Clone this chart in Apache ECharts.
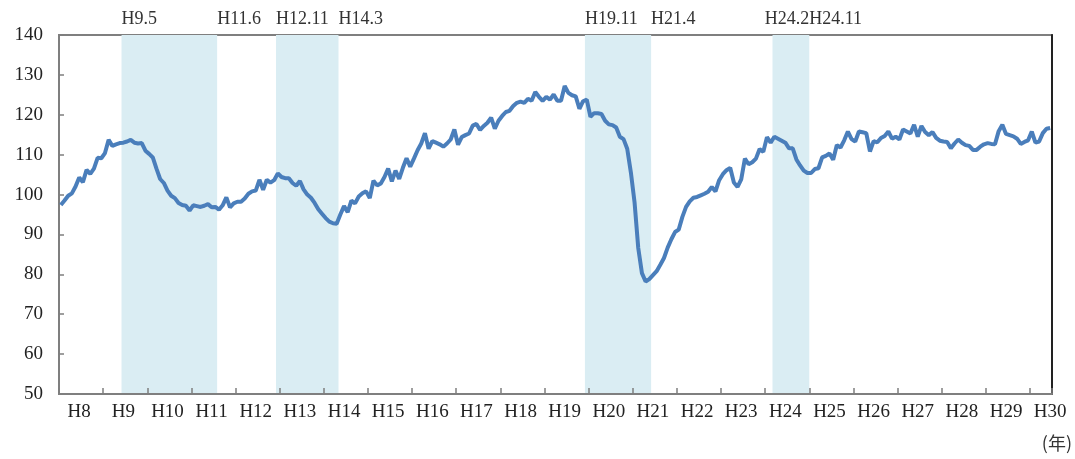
<!DOCTYPE html>
<html lang="ja">
<head>
<meta charset="UTF-8">
<title>指数の推移</title>
<script src="https://cdn.jsdelivr.net/npm/echarts@6/dist/echarts.min.js"></script>
</head>
<body style="margin:0">
<div id="main" style="width:1075px;height:459px"></div>
<script>
// 月次データ H8.1 ～ H30.6
var firstYear = 8;
var values = [
  97.4, 98.5, 99.7, 100.3, 102.0, 104.3, 103.1, 106.2, 105.2, 106.5, 109.2, 109.1,   // H8
  110.4, 113.7, 112.2, 112.6, 112.9, 113.0, 113.3, 113.7, 113.0, 112.8, 112.9, 111.0, // H9
  110.2, 109.3, 106.5, 103.9, 102.9, 101.0, 99.7, 99.1, 97.9, 97.4, 97.2, 96.0,       // H10
  97.3, 97.1, 96.9, 97.2, 97.6, 96.8, 96.9, 96.2, 97.3, 99.3, 96.8, 97.8,             // H11
  98.2, 98.2, 99.0, 100.2, 100.8, 101.0, 103.7, 101.2, 103.7, 103.0, 103.6, 105.3,    // H12
  104.4, 104.1, 104.1, 102.9, 102.2, 103.4, 101.3, 100.0, 99.2, 97.9, 96.3, 95.2,     // H13
  94.1, 93.2, 92.8, 92.7, 95.0, 97.1, 95.6, 98.5, 97.8, 99.5, 100.3, 100.8,           // H14
  99.1, 103.5, 102.3, 102.8, 104.4, 106.5, 103.3, 106.0, 103.9, 106.7, 109.1, 107.0,  // H15
  109.0, 111.1, 112.8, 115.4, 111.5, 113.4, 113.0, 112.6, 112.0, 112.8, 113.8, 116.3, // H16
  112.5, 114.4, 114.9, 115.3, 117.3, 117.7, 116.2, 117.2, 118.0, 119.3, 116.5, 118.5, // H17
  119.7, 120.7, 121.0, 122.2, 123.0, 123.3, 123.0, 124.0, 123.5, 125.7, 124.5, 123.5, // H18
  124.5, 123.8, 125.1, 123.5, 123.5, 127.2, 125.5, 124.9, 124.6, 121.5, 123.4, 123.8, // H19
  119.5, 120.4, 120.4, 120.2, 118.5, 117.6, 117.4, 116.8, 114.5, 113.9, 111.5, 105.5, // H20
  98.0, 86.6, 80.3, 78.2, 78.8, 79.8, 80.8, 82.4, 84.1, 86.7, 88.8, 90.6,             // H21
  91.2, 94.4, 96.9, 98.3, 99.2, 99.4, 99.8, 100.2, 100.7, 101.9, 100.8, 103.6,        // H22
  105.1, 106.1, 106.7, 103.0, 101.9, 103.8, 109.0, 107.6, 108.1, 109.0, 111.4, 110.7, // H23
  114.4, 113.0, 114.5, 114.0, 113.5, 113.0, 111.6, 111.6, 108.8, 107.3, 106.0, 105.4, // H24
  105.4, 106.4, 106.6, 109.3, 109.7, 110.3, 108.7, 112.4, 111.8, 113.6, 115.8, 113.9, // H25
  113.3, 115.8, 115.6, 115.4, 110.8, 113.4, 113.1, 114.2, 114.7, 115.8, 114.0, 114.5, // H26
  113.8, 116.3, 115.8, 115.3, 117.5, 114.5, 117.2, 115.7, 114.9, 115.7, 114.2, 113.5, // H27
  113.3, 113.2, 111.6, 112.8, 113.8, 113.0, 112.4, 112.2, 111.2, 111.2, 112.0, 112.6, // H28
  112.9, 112.7, 112.6, 115.9, 117.5, 115.2, 114.9, 114.6, 114.0, 112.7, 113.2, 113.6, // H29
  115.8, 113.0, 113.3, 115.4, 116.5, 116.7                                            // H30
];

// 景気後退期（山・谷）
var periods = [
  ['H9.5', 'H11.6'],
  ['H12.11', 'H14.3'],
  ['H19.11', 'H21.4'],
  ['H24.2', 'H24.11']
];

var months = [];
for (var i = 0; i < values.length; i++) {
  months.push('H' + (firstYear + Math.floor(i / 12)) + '.' + (i % 12 + 1));
}

var shadeData = [];
var labelData = [];
periods.forEach(function (p) {
  var s = months.indexOf(p[0]) + 1;
  var e = months.indexOf(p[1]) + 2;
  shadeData.push([{xAxis: s}, {xAxis: e}]);
  if (e - s < 12) {
    // 期間が短いときは山の表示を左に寄せる
    labelData.push({name: p[0], coord: [e, 140], label: {position: 'left'}});
  } else {
    labelData.push({name: p[0], coord: [s, 140]});
  }
  labelData.push({name: p[1], coord: [e, 140]});
});

var font = 'Liberation Serif';
var gray = '#7f7f7f';

var myChart = echarts.init(document.getElementById('main'));

var option = {
  animation: false,
  grid: {
    left: 59, right: 23, top: 35, bottom: 65,
    show: true, borderColor: gray, borderWidth: 2,
    outerBoundsMode: 'none'
  },
  xAxis: [{
    type: 'category',
    data: months,
    boundaryGap: true,
    axisLine: {lineStyle: {color: gray, width: 2}},
    axisTick: {
      show: true, inside: true, length: 6,
      lineStyle: {color: gray, width: 1.5},
      interval: function (idx) { return idx % 12 === 0; }
    },
    axisLabel: {
      interval: function (idx) { return idx % 12 === 5; },
      formatter: function (v) { return v.split('.')[0]; },
      fontFamily: font, fontSize: 19, color: '#222', margin: 9
    },
    splitLine: {show: false},
    z: 5
  }, {
    type: 'value',
    show: false,
    position: 'top',
    min: 0,
    max: values.length
  }],
  yAxis: [{
    type: 'value',
    min: 50, max: 140, interval: 10,
    axisLine: {show: true, lineStyle: {color: gray, width: 2}},
    axisTick: {show: true, inside: true, length: 5, lineStyle: {color: gray, width: 1.5}},
    axisLabel: {fontFamily: font, fontSize: 19, color: '#222', margin: 16},
    splitLine: {show: false}
  }, {
    type: 'value',
    position: 'right',
    min: 50, max: 140, interval: 10,
    axisLine: {show: true, lineStyle: {color: '#222', width: 2}},
    axisTick: {show: false},
    axisLabel: {show: false},
    splitLine: {show: false}
  }],
  series: [{
    type: 'line',
    xAxisIndex: 1,
    data: [],
    silent: true,
    markArea: {
      silent: true,
      itemStyle: {color: '#daedf3'},
      data: shadeData
    },
    markPoint: {
      silent: true,
      symbol: 'circle',
      symbolSize: 0,
      label: {
        show: true,
        position: 'right',
        distance: 0,
        offset: [0, -16],
        formatter: '{b}',
        fontFamily: font, fontSize: 18, color: '#333'
      },
      data: labelData
    }
  }, {
    type: 'line',
    data: values,
    showSymbol: false,
    lineStyle: {color: '#4a7ebb', width: 4},
    z: 3
  }],
  graphic: [{
    type: 'text',
    right: 3,
    top: 434,
    style: {text: '(年)', font: '18px "Noto Sans CJK JP"', fill: '#333'}
  }]
};

myChart.setOption(option);
</script>
</body>
</html>
